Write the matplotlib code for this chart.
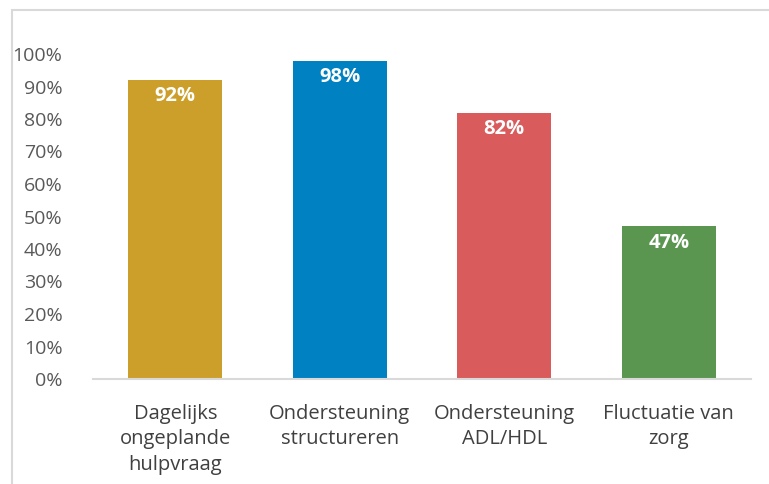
import matplotlib.pyplot as plt
from matplotlib.patches import Rectangle

categories = ["Dagelijks\nongeplande\nhulpvraag", "Ondersteuning\nstructureren",
              "Ondersteuning\nADL/HDL", "Fluctuatie van\nzorg"]
values = [0.92, 0.98, 0.82, 0.47]
colors = ["#CC9F2A", "#0081C2", "#D95B5B", "#5A9650"]
yticks = [0, 0.1, 0.2, 0.3, 0.4, 0.5, 0.6, 0.7, 0.8, 0.9, 1.0]

plt.rcParams['font.family'] = ['Open Sans', 'DejaVu Sans']

fig = plt.figure(figsize=(7.69, 4.84), dpi=100)
ax = fig.add_axes([93 / 769, 1 - 379 / 484, 658 / 769, 325 / 484])

x = range(len(values))
ax.bar(x, values, width=0.57, color=colors, zorder=2)

for i, v in enumerate(values):
    ax.text(i, v - 0.05, f"{int(round(v * 100))}%", ha='center', va='center',
            color='white', fontsize=14.5, fontweight='bold')

ax.set_xlim(-0.5, 3.5)
ax.set_ylim(0, 1.0)
ax.set_yticks(yticks)
ax.set_yticklabels([f"{int(round(t * 100))}%" for t in yticks], color='#595959', fontsize=14)
ax.set_xticks(list(x))
ax.set_xticklabels(categories, color='#404040', fontsize=14.5, linespacing=1.36)
ax.tick_params(axis='both', length=0)
ax.tick_params(axis='y', pad=22)
ax.tick_params(axis='x', pad=18)

for s in ['top', 'right', 'left']:
    ax.spines[s].set_visible(False)
ax.spines['bottom'].set_color('#D9D9D9')
ax.spines['bottom'].set_linewidth(1.5)

# outer chart border (only top and left visible in the crop)
fig.patches.append(Rectangle((11.5 / 769, -0.1), 1.2, 1 - 10.5 / 484 + 0.1,
                             transform=fig.transFigure, fill=False,
                             edgecolor='#D9D9D9', linewidth=1.5))

fig.savefig("out.png", dpi=100)
